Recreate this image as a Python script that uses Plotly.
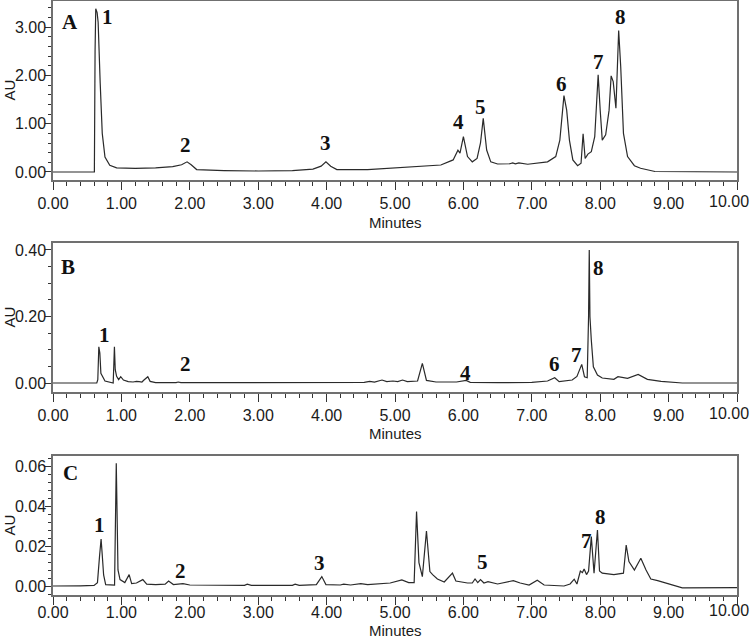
import plotly.graph_objects as go

# ---------------- data ----------------
tA = [0.0, 0.605, 0.615, 0.625, 0.645, 0.66, 0.69, 0.72, 0.76, 0.83, 0.93, 1.2, 1.5, 1.75, 1.88, 1.96,
      2.02, 2.1, 2.5, 3.0, 3.5, 3.8, 3.92, 3.99, 4.06, 4.15, 4.6, 5.0, 5.4, 5.67, 5.85, 5.92, 5.95, 6.0,
      6.06, 6.13, 6.2, 6.25, 6.29, 6.34, 6.40, 6.5, 6.68, 6.72, 6.76, 6.81, 6.94, 7.23, 7.35, 7.41, 7.47,
      7.51, 7.55, 7.6, 7.67, 7.72, 7.75, 7.78, 7.82, 7.87, 7.92, 7.97, 8.0, 8.03, 8.08, 8.13, 8.16, 8.19,
      8.23, 8.27, 8.3, 8.34, 8.40, 8.5, 8.59, 8.8, 10.0]
vA = [0.0, 0.0, 2.5, 3.38, 3.3, 3.1, 1.84, 0.8, 0.31, 0.14, 0.085, 0.075, 0.085, 0.11, 0.15, 0.21,
      0.15, 0.05, 0.03, 0.02, 0.03, 0.06, 0.12, 0.21, 0.12, 0.05, 0.05, 0.08, 0.11, 0.145, 0.25, 0.45, 0.39, 0.73,
      0.32, 0.21, 0.28, 0.6, 1.11, 0.455, 0.21, 0.165, 0.17, 0.19, 0.17, 0.19, 0.16, 0.21, 0.32, 0.66, 1.58,
      1.28, 0.66, 0.25, 0.13, 0.18, 0.79, 0.28, 0.37, 0.42, 0.73, 2.01, 1.28, 0.66, 0.77, 1.28, 1.99, 1.87,
      1.32, 2.93, 2.18, 0.8, 0.32, 0.13, 0.077, 0.01, 0.0]

tB = [0.0, 0.64, 0.655, 0.67, 0.685, 0.70, 0.76, 0.85, 0.88, 0.89, 0.898, 0.91, 0.93, 0.96, 0.99, 1.03,
      1.1, 1.17, 1.22, 1.26, 1.30, 1.33, 1.386, 1.42, 1.5, 1.8, 1.83, 1.87, 2.8, 2.85, 2.9, 3.18, 3.22,
      3.27, 3.9, 3.95, 4.0, 4.15, 4.2, 4.25, 4.55, 4.63, 4.7, 4.81, 4.88, 4.97, 5.04, 5.11, 5.18, 5.33,
      5.40, 5.46, 5.6, 5.9, 6.04, 6.1, 6.5, 7.0, 7.23, 7.335, 7.40, 7.59, 7.66, 7.73, 7.77, 7.81, 7.83,
      7.84, 7.85, 7.87, 7.9, 7.96, 8.03, 8.2, 8.26, 8.4, 8.555, 8.69, 8.89, 9.2, 10.0]
vB = [0.0, 0.0, 0.01, 0.109, 0.09, 0.029, 0.006, 0.002, 0.0, 0.06, 0.109, 0.04, 0.02, 0.01, 0.019, 0.009,
      0.004, 0.003, 0.005, 0.004, 0.003, 0.009, 0.019, 0.005, 0.001, 0.001, 0.003, 0.001, 0.001, 0.003, 0.001, 0.001, 0.003,
      0.001, 0.001, 0.003, 0.001, 0.001, 0.003, 0.001, 0.002, 0.005, 0.003, 0.009, 0.004, 0.006, 0.004, 0.009, 0.004, 0.006,
      0.059, 0.008, 0.003, 0.003, 0.008, 0.002, 0.001, 0.002, 0.006, 0.016, 0.004, 0.009, 0.02, 0.056, 0.019, 0.016, 0.2,
      0.40, 0.2, 0.129, 0.049, 0.024, 0.015, 0.011, 0.019, 0.014, 0.026, 0.011, 0.005, 0.0, 0.0]

tC = [0.0, 0.2, 0.4, 0.6, 0.65, 0.68, 0.703, 0.72, 0.74, 0.77, 0.90, 0.925, 0.935, 0.95, 0.98, 1.05,
      1.113, 1.15, 1.22, 1.313, 1.37, 1.5, 1.64, 1.69, 1.76, 1.9, 2.0, 2.8, 2.84, 2.9, 3.5, 3.54, 3.6,
      3.85, 3.93, 3.99, 4.2, 4.25, 4.35, 4.5, 4.6, 4.93, 5.1, 5.2, 5.28, 5.315, 5.35, 5.40, 5.46, 5.51,
      5.55, 5.62, 5.72, 5.84, 5.89, 6.06, 6.13, 6.17, 6.21, 6.25, 6.30, 6.36, 6.5, 6.64, 6.73, 6.83,
      6.96, 7.08, 7.18, 7.47, 7.56, 7.62, 7.66, 7.71, 7.74, 7.765, 7.8, 7.83, 7.87, 7.91, 7.96, 7.99,
      8.03, 8.2, 8.34, 8.38, 8.42, 8.5, 8.594, 8.67, 8.74, 8.84, 9.05, 9.2, 10.0]
vC = [0.0003, 0.0002, 0.0004, 0.0006, 0.002, 0.015, 0.0238, 0.0158, 0.0058, 0.001, 0.0007, 0.0617, 0.04, 0.0083, 0.0035, 0.002,
      0.006, 0.0015, 0.0018, 0.0035, 0.0012, 0.001, 0.0012, 0.0028, 0.001, 0.0015, 0.0008, 0.0006, 0.0012, 0.0006, 0.0006, 0.0012, 0.0006,
      0.001, 0.005, 0.001, 0.0008, 0.0012, 0.0008, 0.0015, 0.001, 0.0018, 0.0033, 0.002, 0.002, 0.0375, 0.012, 0.005, 0.0278, 0.0075,
      0.006, 0.0038, 0.0023, 0.0067, 0.0028, 0.0018, 0.0018, 0.0038, 0.002, 0.0035, 0.0018, 0.0025, 0.0013, 0.0023, 0.003, 0.0018,
      0.0008, 0.0032, 0.0008, 0.0003, 0.0013, 0.0037, 0.0013, 0.0078, 0.007, 0.0088, 0.006, 0.0078, 0.025, 0.0067, 0.0283, 0.0078,
      0.0067, 0.006, 0.0067, 0.0208, 0.0125, 0.0083, 0.0142, 0.0083, 0.0038, 0.003, 0.0009, -0.0006, -0.0005]

peak_labels_A = ["1", "2", "3", "4", "5", "6", "7", "8"]
peak_t_A = [0.79, 1.93, 3.98, 5.925, 6.25, 7.43, 7.97, 8.29]
peak_v_A = [3.215, 0.56, 0.60, 1.04, 1.35, 1.82, 2.28, 3.215]

peak_labels_B = ["1", "2", "4", "6", "7", "8"]
peak_t_B = [0.747, 1.93, 6.03, 7.335, 7.66, 7.98]
peak_v_B = [0.144, 0.057, 0.031, 0.057, 0.084, 0.345]

peak_labels_C = ["1", "2", "3", "5", "7", "8"]
peak_t_C = [0.678, 1.86, 3.90, 6.28, 7.80, 8.01]
peak_v_C = [0.0308, 0.0079, 0.012, 0.0125, 0.0229, 0.0346]

x_ticks = [0, 1, 2, 3, 4, 5, 6, 7, 8, 9, 10]
x_tick_labels = ["0.00", "1.00", "2.00", "3.00", "4.00", "5.00", "6.00", "7.00", "8.00", "9.00", "10.00"]

# ---------------- figure ----------------
W, H = 755, 639
mt, mb, ml, mr = 1, 44, 53, 18
ph = H - mt - mb

def dom(top_px, bot_px):
    return [(H - mb - bot_px) / ph, (H - mb - top_px) / ph]

# the last label is drawn separately (pulled left so it stays inside the page, as in the reference)
shown_x_labels = x_tick_labels[:-1] + [""]

fig = go.Figure()
line = dict(color="#2a2a2a", width=1.2)
fig.add_trace(go.Scatter(x=tA, y=vA, mode="lines", line=line, xaxis="x", yaxis="y", showlegend=False))
fig.add_trace(go.Scatter(x=tB, y=vB, mode="lines", line=line, xaxis="x2", yaxis="y2", showlegend=False))
fig.add_trace(go.Scatter(x=tC, y=vC, mode="lines", line=line, xaxis="x3", yaxis="y3", showlegend=False))

tickfont = dict(family="Liberation Sans, Arial", size=16, color="#1a1a1a")
frame = "#707070"

def xax(anchor, standoff=0):
    return dict(anchor=anchor, domain=[0, 1], range=[0, 10], tickvals=x_ticks, ticktext=shown_x_labels,
                ticks="outside", ticklen=8, tickwidth=1, tickcolor="#333",
                minor=dict(dtick=0.2, ticks="outside", ticklen=4, tickwidth=1, tickcolor="#333"),
                showline=True, mirror=True, linecolor=frame, linewidth=1.5,
                showgrid=False, zeroline=False, tickfont=tickfont, automargin=False,
                ticklabeloverflow="allow", ticklabelstandoff=standoff)

def yax(anchor, domain, rng, dtick, mdt):
    return dict(anchor=anchor, domain=domain, range=rng, dtick=dtick, tick0=0, tickformat=".2f",
                ticks="outside", ticklen=6, tickwidth=1, tickcolor="#333",
                minor=dict(dtick=mdt, tick0=0, ticks="outside", ticklen=3, tickwidth=1, tickcolor="#333"),
                showline=True, mirror=True, linecolor=frame, linewidth=1.5,
                showgrid=False, zeroline=False, tickfont=tickfont, automargin=False,
                ticklabelstandoff=-4, ticklabeloverflow="allow")

fig.update_layout(
    width=W, height=H, margin=dict(l=ml, r=mr, t=mt, b=mb, autoexpand=False),
    paper_bgcolor="white", plot_bgcolor="white",
    xaxis=xax("y"), yaxis=yax("x", dom(1, 180), [-0.166, 3.54], 1, 0.2),
    xaxis2=xax("y2"), yaxis2=yax("x2", dom(243, 392), [-0.027, 0.421], 0.2, 0.05),
    xaxis3=xax("y3", -6), yaxis3=yax("x3", dom(456, 595), [-0.0042, 0.0653], 0.02, 0.004),
)

ann = []
titlefont = dict(family="Liberation Sans, Arial", size=15, color="#1a1a1a")
serif = dict(family="Liberation Serif, Times New Roman", size=21, color="#111")
panels = [("x", "y", "A", 17, -21, peak_labels_A, peak_t_A, peak_v_A, -42, -21),
          ("x2", "y2", "B", 15, -24, peak_labels_B, peak_t_B, peak_v_B, -41, -21),
          ("x3", "y3", "C", 17, -17, peak_labels_C, peak_t_C, peak_v_C, -35, -15)]
for xr, yr, letter, lx, ly, labs, pts, pvs, mshift, tshift in panels:
    ann.append(dict(text="Minutes", xref=xr + " domain", yref=yr + " domain", x=0.5, y=0,
                    xanchor="center", yanchor="middle", yshift=mshift, showarrow=False, font=titlefont))
    ann.append(dict(text=x_tick_labels[-1], xref=xr + " domain", yref=yr + " domain", x=1, y=0,
                    xanchor="right", yanchor="middle", xshift=14, yshift=tshift, showarrow=False,
                    font=tickfont))
    ann.append(dict(text="AU", xref=xr + " domain", yref=yr + " domain", x=0, y=0.5, textangle=-90,
                    xanchor="center", yanchor="middle", xshift=-44, showarrow=False, font=titlefont))
    ann.append(dict(text="<b>" + letter + "</b>", xref=xr + " domain", yref=yr + " domain", x=0, y=1,
                    xanchor="center", yanchor="middle", xshift=lx, yshift=ly, showarrow=False, font=serif))
    for lab, t, v in zip(labs, pts, pvs):
        ann.append(dict(text="<b>" + lab + "</b>", xref=xr, yref=yr, x=t, y=v,
                        xanchor="center", yanchor="middle", showarrow=False, font=serif))
fig.update_layout(annotations=ann)

fig.write_html("out.html", config={"displayModeBar": False},
               post_script="document.body.style.margin='0px';document.body.style.overflow='hidden';")
